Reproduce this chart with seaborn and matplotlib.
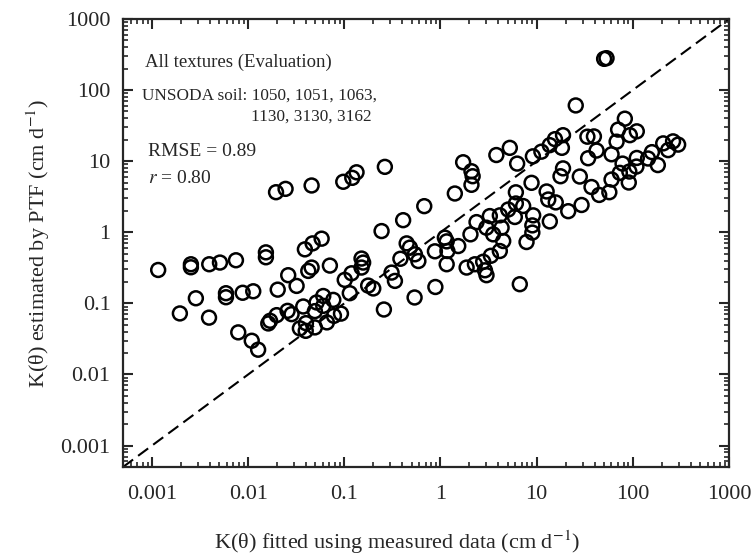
import numpy as np
import pandas as pd
import matplotlib
matplotlib.use("Agg")
import matplotlib.pyplot as plt
import matplotlib.ticker as mticker
import seaborn as sns

# --- Dades llegides de la figura (K fitted vs K estimated, cm/d) ---
k_fitted = [
    0.0195, 0.0245, 0.0457, 0.0975, 0.121, 0.134, 0.264,
    1.72, 2.10, 2.16, 2.10, 3.81, 1.41, 0.678, 0.409, 0.244,
    6.27, 5.26, 9.14, 11.2, 13.7, 15.5, 18.8, 18.3, 25.5, 50.3, 53.3,
    82.6, 70.3, 110, 93.1, 67.8, 60.1, 33.7, 39.4, 42.0, 34.3,
    18.8, 17.7, 28.1, 8.85, 6.08, 12.7, 13.2, 15.8, 21.3, 29.3,
    37.2, 44.7, 57.0, 60.1, 73.3, 78.2, 92.0, 90.8, 109, 110,
    144, 158, 182, 207, 233, 262, 296,
    6.08, 7.24, 9.20, 13.7, 5.93, 9.02, 9.02, 7.85, 6.68,
    2.37, 3.26, 4.14, 5.06, 3.00, 4.32, 3.53, 2.05, 4.49, 4.14,
    3.34, 2.78, 2.28, 2.90, 3.01, 1.87, 1.53, 1.11, 1.16, 1.18, 1.16,
    0.875, 0.589, 0.542, 0.481, 0.445, 0.383, 0.885, 0.538,
    0.336, 0.310, 0.258, 0.177, 0.200, 0.151, 0.157, 0.151,
    0.119, 0.101, 0.114, 0.0768, 0.0604, 0.0604, 0.0923, 0.078,
    0.0581, 0.0708, 0.0468, 0.0389, 0.0422, 0.0457, 0.0261, 0.0319,
    0.0203, 0.0113, 0.00877, 0.00588, 0.00588, 0.00286,
    0.00116, 0.00254, 0.00254, 0.00394, 0.00509, 0.00747, 0.0153, 0.0153,
    0.00195, 0.00392, 0.00789, 0.0109, 0.0127, 0.0162, 0.0169, 0.0198,
    0.0257, 0.0283, 0.0374, 0.0345, 0.0397, 0.0494, 0.0515, 0.0494,
    0.0659, 0.0399,
]
k_estimated = [
    3.66, 4.08, 4.55, 5.13, 5.83, 6.98, 8.32,
    9.66, 7.22, 6.14, 4.65, 12.2, 3.51, 2.33, 1.48, 1.04,
    9.25, 15.4, 11.7, 13.6, 16.8, 20.4, 23.2, 15.4, 60.8, 275, 281,
    39.6, 27.8, 26.3, 23.2, 18.8, 12.5, 22.1, 22.3, 14.1, 11.0,
    7.92, 6.14, 6.08, 4.96, 3.65, 3.75, 2.89, 2.63, 1.98, 2.42,
    4.33, 3.35, 3.66, 5.52, 6.85, 9.25, 7.15, 5.01, 8.40, 11.1,
    10.9, 13.4, 8.81, 17.8, 14.3, 19.0, 17.1,
    2.54, 2.34, 1.73, 1.42, 1.64, 1.25, 0.99, 0.729, 0.186,
    1.39, 1.69, 1.73, 2.09, 1.16, 1.16, 0.935, 0.935, 0.753, 0.545,
    0.467, 0.385, 0.355, 0.292, 0.249, 0.319, 0.640, 0.84, 0.745, 0.545, 0.355,
    0.54, 0.394, 0.49, 0.608, 0.698, 0.424, 0.170, 0.121,
    0.207, 0.271, 0.082, 0.178, 0.162, 0.427, 0.375, 0.319,
    0.265, 0.214, 0.139, 0.112, 0.127, 0.0923, 0.0718, 0.0668,
    0.813, 0.340, 0.698, 0.575, 0.286, 0.319, 0.249, 0.176,
    0.156, 0.148, 0.141, 0.139, 0.122, 0.118,
    0.295, 0.355, 0.322, 0.355, 0.375, 0.404, 0.522, 0.445,
    0.0722, 0.063, 0.0391, 0.0298, 0.0223, 0.0522, 0.0569, 0.0683,
    0.0785, 0.0705, 0.0904, 0.0445, 0.0411, 0.0459, 0.103, 0.0778,
    0.054, 0.0527,
]
linia_1_1 = [0.0005, 1000]
decades = [0.001, 0.01, 0.1, 1, 10, 100, 1000]
decade_labels = ["0.001", "0.01", "0.1", "1", "10", "100", "1000"]

df = pd.DataFrame({"fitted": k_fitted, "estimated": k_estimated})

sns.set_style("ticks")
plt.rcParams["font.family"] = ["Liberation Serif", "DejaVu Serif"]
plt.rcParams["mathtext.fontset"] = "stix"

fig = plt.figure(figsize=(7.52, 5.55), dpi=100)
ax = fig.add_axes([0.1636, 0.1586, 0.8058, 0.8072])

# linia 1:1
ax.plot(linia_1_1, linia_1_1, color="black", linestyle=(0, (6, 3)), linewidth=1.5, zorder=1)

sns.scatterplot(data=df, x="fitted", y="estimated", ax=ax, marker="o", s=100,
                facecolors="none", edgecolor="black", linewidth=1.8, zorder=2)

ax.set_xscale("log")
ax.set_yscale("log")
ax.set_xlim(0.0005, 1000)
ax.set_ylim(0.0005, 1000)

for axis in (ax.xaxis, ax.yaxis):
    axis.set_major_locator(mticker.FixedLocator(decades))
    axis.set_major_formatter(mticker.FixedFormatter(decade_labels))
    axis.set_minor_locator(mticker.LogLocator(base=10, subs=np.arange(2, 10)))
    axis.set_minor_formatter(mticker.NullFormatter())

ax.tick_params(which="both", direction="in", top=True, right=True, width=1.5, labelsize=16)
ax.tick_params(which="major", length=7)
ax.tick_params(which="minor", length=3.5, width=1.2)
ax.tick_params(axis="x", pad=13)
ax.tick_params(axis="y", pad=9)
for s in ax.spines.values():
    s.set_linewidth(1.6)

ax.set_xlabel("K(θ) fitted using measured data (cm d$^{-1}$)", fontsize=16)
ax.set_ylabel("K(θ) estimated by PTF (cm d$^{-1}$)", fontsize=16)
ax.xaxis.set_label_coords(0.452, -0.138)
ax.yaxis.set_label_coords(-0.118, 0.5)

ax.text(0.036, 0.904, "All textures (Evaluation)", transform=ax.transAxes, fontsize=13.5, va="center")
ax.text(0.032, 0.828, "UNSODA soil: 1050, 1051, 1063,", transform=ax.transAxes, fontsize=12.4, va="center")
ax.text(0.211, 0.783, "1130, 3130, 3162", transform=ax.transAxes, fontsize=12.4, va="center")
ax.text(0.042, 0.704, "RMSE = 0.89", transform=ax.transAxes, fontsize=14, va="center")
ax.text(0.042, 0.644, "$r$ = 0.80", transform=ax.transAxes, fontsize=14, va="center")

plt.savefig("out.png", dpi=100)
